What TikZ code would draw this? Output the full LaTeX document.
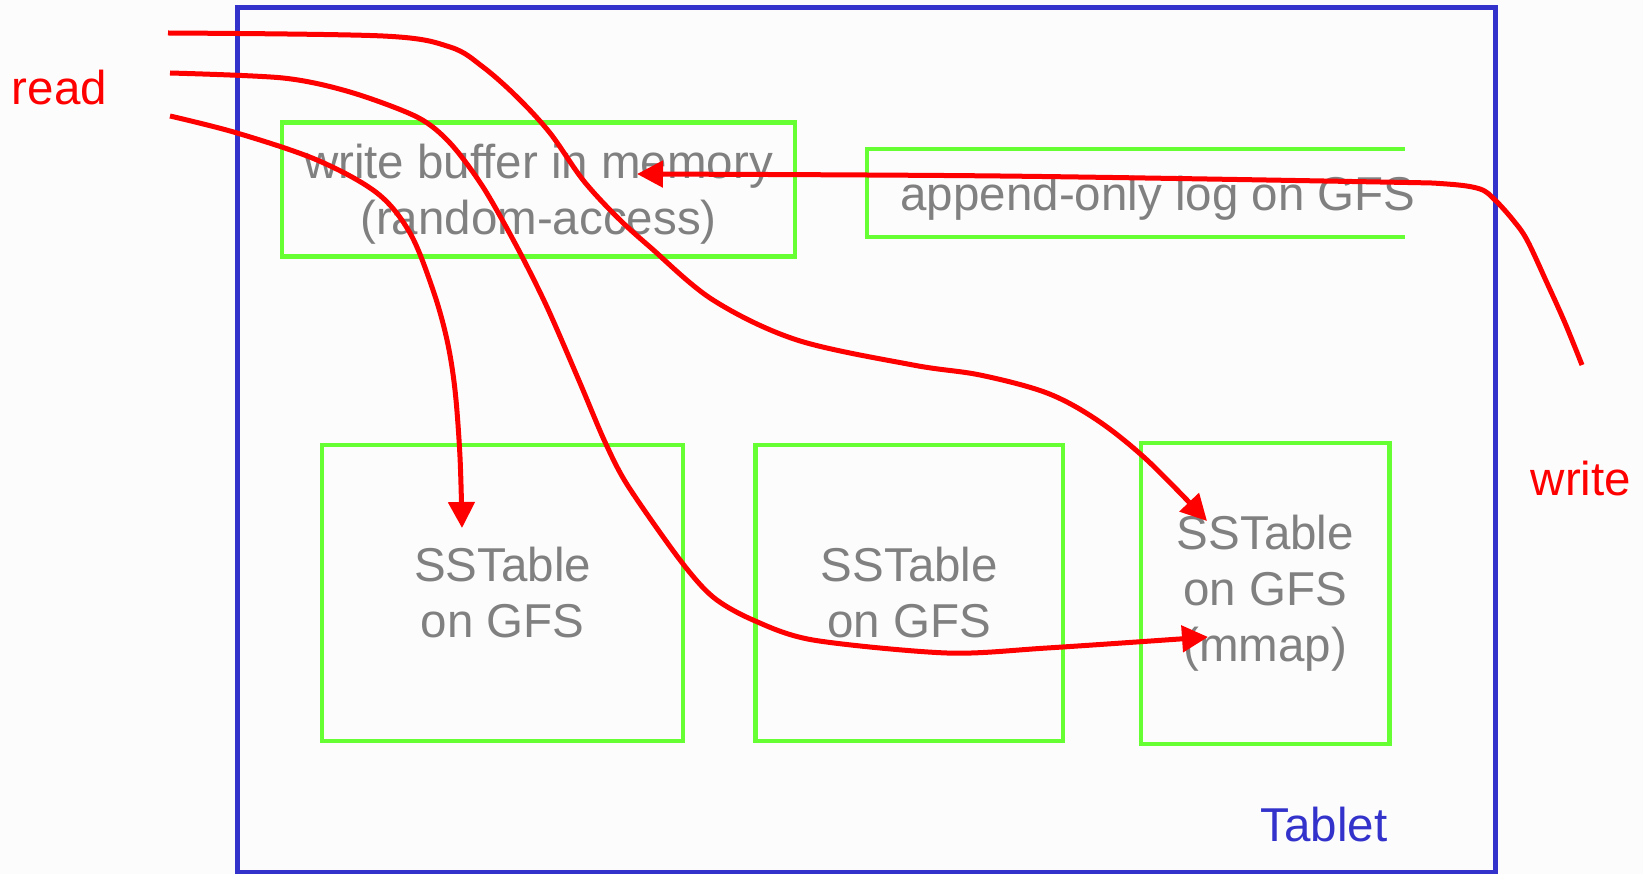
\documentclass[tikz,border=0pt]{standalone}
\usepackage{fontspec}
\setmainfont{Liberation Sans}
\usetikzlibrary{arrows.meta}

\definecolor{bgcol}{RGB}{252,252,252}
\definecolor{tabletblue}{RGB}{51,51,204}
\definecolor{boxgreen}{RGB}{102,255,51}
\definecolor{labelgrey}{RGB}{128,128,128}
\definecolor{flowred}{RGB}{255,0,0}

\begin{document}
\begin{tikzpicture}[x=1pt, y=-1pt,
  every node/.style={inner sep=0pt, outer sep=0pt},
  bigfont/.style={font=\fontsize{47.5}{56}\selectfont},
  frame/.style={draw=boxgreen, line width=4.5pt, rectangle},
  store/.style={frame, bigfont, text=labelgrey, align=center},
  storetext/.style={bigfont, text=labelgrey, align=center},
  container/.style={draw=tabletblue, line width=5pt, rectangle},
  flow/.style={draw=flowred, line width=5pt,
               -{Triangle[length=26pt, width=26pt]}},
  flowlabel/.style={bigfont, text=flowred}]

% canvas
\fill[bgcol] (0,0) rectangle (1643,874);
\useasboundingbox (0,0) rectangle (1643,874);

% tablet container
\node[container, minimum width=1258.3pt, minimum height=864pt] (tablet) at (866.5,440) {};
\node[bigfont, text=tabletblue, anchor=base] (tabletlbl) at (1324,841) {Tablet};

% in-memory buffer and log
\node[frame, minimum width=513pt, minimum height=134pt] (buffer) at (538.5,189.5) {};
\node[storetext] (buffertxt) at ([yshift=-5pt]buffer.center)
  {write buffer in memory\\(random-access)};
\node[minimum width=538pt, minimum height=88pt] (log) at (1136,193) {};
\draw[boxgreen, line width=4.5pt] (log.north east) -- (log.north west)
  -- (log.south west) -- (log.south east);
\node[bigfont, text=labelgrey, anchor=base] (logtxt) at (1158,211) {append-only log on GFS};

% SSTables
\node[store, minimum width=361pt, minimum height=296pt] (sst1) at (502.5,593) {SSTable\\on GFS};
\node[store, minimum width=307.5pt, minimum height=296pt] (sst2) at (909.3,593) {SSTable\\on GFS};
\node[store, minimum width=248.5pt, minimum height=301pt] (sst3) at (1265.3,593.4) {SSTable\\on GFS\\(mmap)};

% side labels
\node[flowlabel, anchor=base west] (readlbl) at (12,105) {read};
\node[flowlabel, anchor=base] (writelbl) at (1581,495) {write};

% end points of the flows
\coordinate (rA) at (168,33);
\coordinate (rB) at (170,73);
\coordinate (rC) at (170,116);
\coordinate (tipA) at (1207,521);
\coordinate (tipB) at (1208,637);
\coordinate (tipC) at (462,528);
\coordinate (wS) at (1582,365);
\coordinate (tipW) at (637,174);

% read paths
\draw[flow] plot[smooth, tension=0.55] coordinates {(rA) (383,36) (450,47) (483,67)
  (517,97) (550,133) (583,180) (617,217) (650,247) (713,300) (797,340) (913,365)
  (980,375) (1047,393) (1097,420) (1147,460) (tipA)};
\draw[flow] plot[smooth, tension=0.5] coordinates {(rB) (283,78) (350,92) (417,117)
  (450,143) (483,187) (517,247) (547,307) (580,383) (605,442) (628,486) (680,560)
  (713,597) (753,620) (813,640) (947,653) (1047,648) (tipB)};
\draw[flow] plot[smooth, tension=0.55] coordinates {(rC) (237,133) (317,160) (377,193)
  (410,233) (433,290) (447,340) (455,390) (460,457) (tipC)};

% write path
\draw[flow] plot[smooth, tension=0.55] coordinates {(wS) (1565,323) (1547,283)
  (1527,240) (1513,220) (1495,200) (1480,189) (1447,184) (1380,182) (1000,176) (tipW)};
\end{tikzpicture}
\end{document}
